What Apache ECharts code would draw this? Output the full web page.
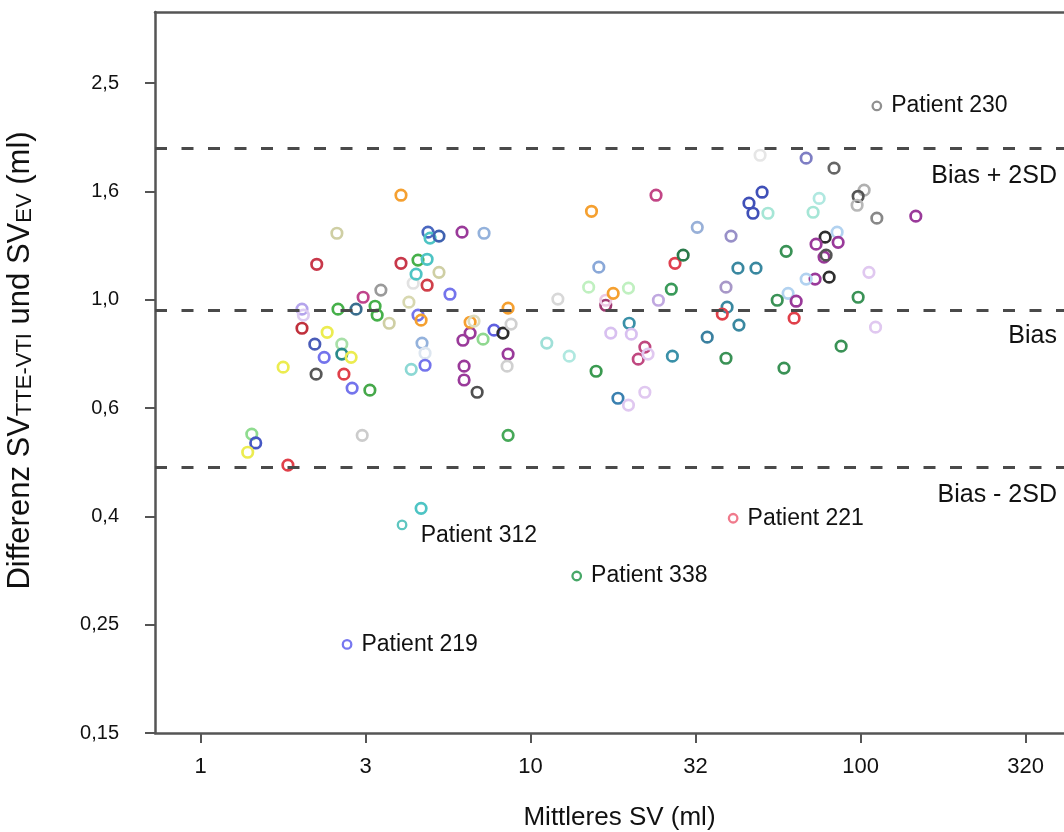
<!DOCTYPE html>
<html>
<head>
<meta charset="utf-8">
<script src="https://cdn.jsdelivr.net/npm/echarts@6/dist/echarts.min.js"></script>
<style>
  html, body { margin: 0; padding: 0; background: #ffffff; }
  #chart { width: 1064px; height: 832px; }
</style>
</head>
<body>
<div id="chart"></div>
<script>
// Mean stroke volume of both methods (ml), one entry per measurement pair
const meanSV = [
  1.43, 1.47, 1.39, 1.84, 1.78, 2.03, 2.05, 2.03, 2.25, 2.22,
  2.24, 2.37, 2.42, 2.59, 2.61, 2.68, 2.68, 2.86, 2.72, 2.88,
  2.96, 3.09, 3.11, 3.26, 3.38, 3.43, 3.52, 3.73, 4.05, 4.05,
  4.28, 4.35, 4.41, 4.50, 4.56, 4.56, 4.66, 4.69, 4.79, 4.79,
  4.86, 4.89, 4.96, 4.86, 5.28, 5.28, 5.70, 6.20, 6.24, 6.56,
  6.29, 6.29, 6.56, 6.74, 6.89, 7.18, 7.23, 7.75, 8.25, 8.55,
  8.73, 8.55, 8.49, 8.55, 11.2, 12.1, 13.1, 15.0, 15.3, 15.8,
  16.1, 16.9, 16.9, 17.5, 17.8, 18.4, 19.8, 19.8, 19.9, 20.2,
  21.2, 22.2, 22.7, 22.2, 24.0, 24.4, 26.7, 26.9, 27.4, 29.0,
  32.0, 34.3, 49.6, 68.4, 83.1, 50.3, 45.9, 47.2, 52.4, 74.9,
  71.8, 102.5, 98.3, 97.6, 112, 147, 40.5, 78.1, 84.9, 85.5,
  73.3, 59.5, 77.5, 78.6, 42.5, 48.2, 106, 72.8, 80.3, 68.4,
  39.1, 60.3, 55.9, 63.8, 98.3, 39.4, 38.1, 62.9, 42.8, 111,
  87.3, 39.1, 58.6, 4.66
];

// Ratio SV(TTE-VTI) / SV(EV) for the same pairs
const diffSV = [
  0.565, 0.544, 0.523, 0.495, 0.751, 0.961, 0.937, 0.886, 1.163, 0.828,
  0.729, 0.783, 0.871, 1.327, 0.961, 0.828, 0.794, 0.783, 0.729, 0.687,
  0.961, 0.562, 1.011, 0.681, 0.973, 0.937, 1.042, 0.905, 1.560, 1.168,
  0.990, 0.744, 1.073, 1.115, 1.184, 0.937, 0.917, 0.832, 0.797, 0.757,
  1.064, 1.333, 1.300, 1.188, 1.311, 1.124, 1.024, 1.333, 0.842, 0.868,
  0.754, 0.711, 0.909, 0.913, 0.675, 0.846, 1.327, 0.879, 0.868, 0.965,
  0.902, 0.794, 0.754, 0.562, 0.832, 1.003, 0.787, 1.055, 1.457, 0.738,
  1.149, 0.977, 0.998, 0.868, 1.028, 0.658, 1.051, 0.639, 0.905, 0.864,
  0.777, 0.818, 0.794, 0.675, 1.560, 0.998, 1.046, 0.787, 1.168, 1.209,
  1.361, 0.853, 1.849, 1.826, 1.750, 1.580, 1.508, 1.445, 1.445, 1.539,
  1.451, 1.594, 1.553, 1.495, 1.415, 1.427, 1.311, 1.305, 1.333, 1.277,
  1.267, 1.229, 1.199, 1.209, 1.144, 1.144, 1.124, 1.092, 1.101, 1.092,
  1.055, 1.028, 0.998, 0.994, 1.011, 0.969, 0.941, 0.925, 0.898, 0.890,
  0.821, 0.780, 0.748, 0.412
];

// Ring colour of every marker (one colour per patient)
const markerColors = [
  '#8fdc8f', '#4658c4', '#ecec50', '#e0404a', '#ecec50', '#b4a4ec', '#dccbf2', '#c0303c', '#c8384a', '#4a5cb8',
  '#585858', '#7474ec', '#ecec50', '#cfcfa4', '#46b04a', '#a8e0a8', '#2a8a8a', '#ecec50', '#e0404a', '#7474ec',
  '#3a6e8e', '#cccccc', '#c0448c', '#46a84a', '#46b04a', '#46b04a', '#9a9a9a', '#cfcfa4', '#f5a030', '#c8384a',
  '#d8d8b0', '#8cd8d4', '#e2e2e2', '#4ec4c4', '#46b04a', '#7474ec', '#f5a030', '#94b2dc', '#dde6f0', '#7474ec',
  '#d0404a', '#4a68c0', '#4ec4c4', '#4ec4c4', '#3f62b0', '#cfcfa4', '#7474ec', '#9a3a9a', '#9a3a9a', '#9a3a9a',
  '#9a3a9a', '#9a3a9a', '#f5a030', '#dcdcc0', '#505050', '#90d890', '#94b2dc', '#6060e0', '#2e2e2e', '#f5a030',
  '#d0d0d0', '#9a3a9a', '#d0d0d0', '#46a858', '#a0e0d8', '#d8d8d8', '#b0e8e0', '#c0f0c0', '#f5a030', '#3a9a50',
  '#8aa8d8', '#a03a72', '#ecc8e4', '#d8c0f0', '#f5a030', '#3a80b0', '#c0f0c0', '#e0c8f0', '#3a90a8', '#d8c0f0',
  '#c04880', '#c04880', '#e0c8f0', '#e0c8f0', '#c24686', '#c0a8e0', '#3a9a5a', '#3a90a8', '#e04050', '#2a7a4a',
  '#98b0d8', '#3a80a0', '#e6e6e6', '#7e7ec4', '#666666', '#4050b8', '#4050b8', '#4050b8', '#a6e6d6', '#b0e8e0',
  '#a6e6d6', '#b0b0b0', '#555555', '#b8b8b8', '#888888', '#9a3a9a', '#9890c8', '#2e2e2e', '#b2d2f0', '#9a3a9a',
  '#9a3a9a', '#3a9256', '#9a3a9a', '#555555', '#3a88a0', '#3a88a0', '#e0c8f0', '#9a3a9a', '#2e2e2e', '#b2d2f0',
  '#a898c8', '#b2d2f0', '#3a9256', '#9a3a9a', '#3a9256', '#3a88a0', '#e0404a', '#e0404a', '#3a88a0', '#e0c8f0',
  '#3a9256', '#3a9256', '#3a9256', '#4ec4c4'
];

// Outliers that carry a patient label
const labeledNames = ['Patient 230', 'Patient 312', 'Patient 221', 'Patient 338', 'Patient 219'];
const labeledMeanSV = [112, 4.08, 41.1, 13.8, 2.78];
const labeledDiffSV = [2.28, 0.384, 0.395, 0.309, 0.231];
const labeledColors = ['#909090', '#5ec6c0', '#f07a8c', '#48a868', '#7878f0'];

// Bias and limits of agreement
const limitNames = ['Bias + 2SD', 'Bias', 'Bias - 2SD'];
const limitValues = [1.889, 0.957, 0.486];

// Axis ticks (values and their printed labels)
const xTickValues = [1, 3.1623, 10, 31.623, 100, 316.23];
const xTickLabels = ['1', '3', '10', '32', '100', '320'];
const yTickValues = [0.15849, 0.25119, 0.39811, 0.63096, 1, 1.5849, 2.5119];
const yTickLabels = ['0,15', '0,25', '0,4', '0,6', '1,0', '1,6', '2,5'];
const xRange = [0.728, 431];
const yRange = [0.15849, 3.40];

const lg = Math.log10;
const xTickLogs = xTickValues.map(lg);
const yTickLogs = yTickValues.map(lg);
const pickLabel = (logs, labels) => (v) => {
  const i = logs.findIndex(t => Math.abs(t - v) < 1e-6);
  return i >= 0 ? labels[i] : '';
};

const axisColor = '#555555';
const textColor = '#111111';
const sansFont = "'Liberation Sans', Arial, sans-serif";

const chart = echarts.init(document.getElementById('chart'), null, { renderer: 'canvas' });

chart.setOption({
  animation: false,
  backgroundColor: '#ffffff',
  // plot area runs past the right edge of the canvas
  grid: { left: 155, top: 12, bottom: 99, width: 915, show: false, outerBoundsMode: 'none' },
  xAxis: [
    {
      type: 'value',
      position: 'bottom',
      min: lg(xRange[0]), max: lg(xRange[1]),
      name: 'Mittleres SV (ml)',
      nameLocation: 'middle',
      nameGap: 72,
      nameTextStyle: { fontSize: 26, color: textColor, fontFamily: sansFont, padding: [0, 0, 0, 14] },
      axisLine: { show: true, onZero: false, lineStyle: { color: axisColor, width: 2.5 } },
      axisTick: { show: true, length: 10, customValues: xTickLogs, lineStyle: { color: axisColor, width: 2 } },
      axisLabel: {
        show: true, margin: 23, customValues: xTickLogs,
        formatter: pickLabel(xTickLogs, xTickLabels),
        fontSize: 22, color: textColor, fontFamily: sansFont
      },
      splitLine: { show: false }
    },
    {
      // upper frame line
      type: 'value',
      position: 'top',
      min: lg(xRange[0]), max: lg(xRange[1]),
      axisLine: { show: true, onZero: false, lineStyle: { color: axisColor, width: 2.5 } },
      axisTick: { show: false },
      axisLabel: { show: false },
      splitLine: { show: false }
    }
  ],
  yAxis: {
    type: 'value',
    min: lg(yRange[0]), max: lg(yRange[1]),
    name: '{n|Differenz SV}{s|TTE-VTI}{n| und SV}{s|EV}{n| (ml)}',
    nameLocation: 'middle',
    nameRotate: 90,
    nameGap: 119,
    nameTextStyle: {
      padding: [0, 0, 0, 24],
      rich: {
        n: { fontSize: 31, lineHeight: 33, verticalAlign: 'bottom', color: textColor, fontFamily: sansFont },
        s: { fontSize: 22, lineHeight: 19, verticalAlign: 'bottom', color: textColor, fontFamily: sansFont }
      }
    },
    axisLine: { show: true, onZero: false, lineStyle: { color: axisColor, width: 2.5 } },
    axisTick: { show: true, length: 10, customValues: yTickLogs, lineStyle: { color: axisColor, width: 2 } },
    axisLabel: {
      show: true, margin: 36, customValues: yTickLogs,
      formatter: pickLabel(yTickLogs, yTickLabels),
      fontSize: 20, color: textColor, fontFamily: sansFont
    },
    splitLine: { show: false }
  },
  series: [
    {
      type: 'scatter',
      silent: true,
      symbol: 'circle',
      symbolSize: 10.5,
      itemStyle: { color: 'rgba(0,0,0,0)', borderWidth: 2.7, opacity: 1 },
      data: meanSV.map((m, i) => ({
        value: [lg(m), lg(diffSV[i])],
        itemStyle: { borderColor: markerColors[i] }
      })),
      markLine: {
        silent: true,
        symbol: ['none', 'none'],
        label: { show: false },
        lineStyle: { type: [12, 14.5], color: '#4a4a4a', width: 3, opacity: 1 },
        data: limitValues.map(v => ({ yAxis: lg(v) }))
      }
    },
    {
      type: 'scatter',
      silent: true,
      symbol: 'circle',
      symbolSize: 8.5,
      itemStyle: { color: 'rgba(0,0,0,0)', borderWidth: 2.3, opacity: 1 },
      label: {
        show: true,
        position: 'right',
        distance: 9,
        formatter: (p) => labeledNames[p.dataIndex],
        fontSize: 23, color: textColor, opacity: 1, fontFamily: sansFont
      },
      data: labeledMeanSV.map((m, i) => {
        const item = {
          value: [lg(m), lg(labeledDiffSV[i])],
          itemStyle: { borderColor: labeledColors[i] }
        };
        if (labeledNames[i] === 'Patient 312') {
          item.label = { position: [24, 16], verticalAlign: 'middle' };
        }
        return item;
      })
    }
  ]
});

// Limit names sit right-aligned just below their dashed lines
const labelRight = 1057;
chart.setOption({
  graphic: limitValues.map((v, i) => {
    const py = chart.convertToPixel({ gridIndex: 0 }, [0, lg(v)])[1];
    return {
      type: 'text',
      x: labelRight,
      y: py + 26,
      silent: true,
      style: {
        text: limitNames[i],
        align: 'right',
        verticalAlign: 'middle',
        fontSize: 25,
        fontFamily: sansFont,
        fill: textColor
      }
    };
  })
});
</script>
</body>
</html>
